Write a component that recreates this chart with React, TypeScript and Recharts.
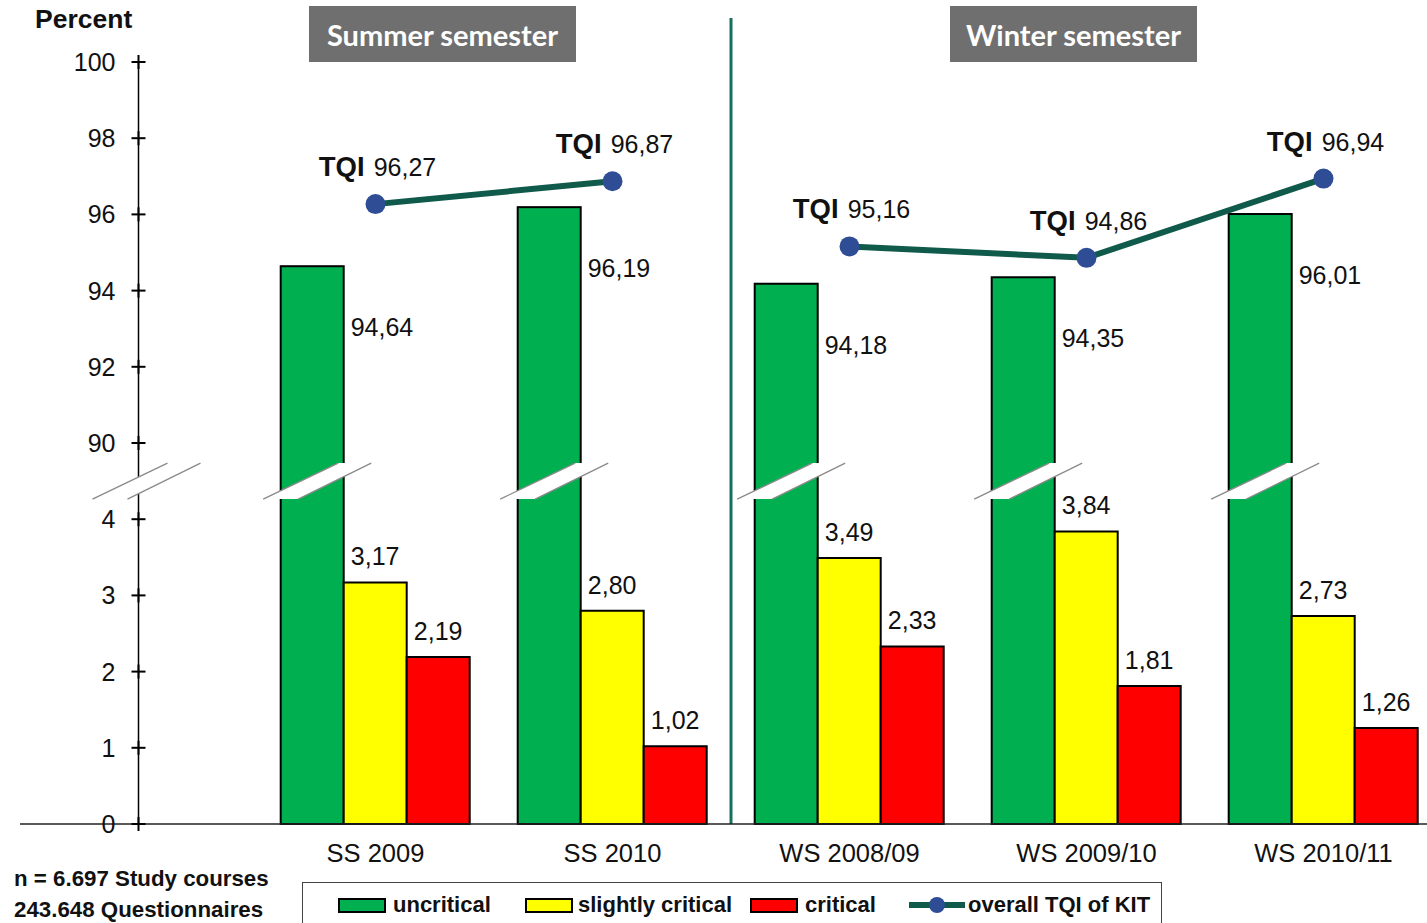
import { ComposedChart, Bar, Line, XAxis, YAxis, ReferenceLine, ReferenceDot, LabelList } from "recharts"

const categories = [" ", "SS 2009", "SS 2010", "WS 2008/09", "WS 2009/10", "WS 2010/11"]
const uncritical = [null, 94.64, 96.19, 94.18, 94.35, 96.01]
const slightlyCritical = [null, 3.17, 2.8, 3.49, 3.84, 2.73]
const critical = [null, 2.19, 1.02, 2.33, 1.81, 1.26]
const tqiSummer = [null, 96.27, 96.87, null, null, null]
const tqiWinter = [null, null, null, 95.16, 94.86, 96.94]
const lowerTicks = [0, 1, 2, 3, 4]
const upperTicks = [90, 92, 94, 96, 98, 100]

// broken axis: 0..4 drawn as is, 90..100 squeezed into 5..10
const BREAK = 4.5
const toAxis = (v: number | null) => (v == null ? null : v <= 4 ? v : 5 + (v - 90) / 2)
const fromAxis = (t: number) => (t <= 4 ? t : 90 + (t - 5) * 2)
const fmt = (v: number) => v.toFixed(2).replace(".", ",")

const data = categories.map((name, i) => ({
  name,
  uncritical: toAxis(uncritical[i]),
  uncriticalRaw: uncritical[i],
  slightly: slightlyCritical[i],
  critical: critical[i],
  tqiS: toAxis(tqiSummer[i]),
  tqiSRaw: tqiSummer[i],
  tqiW: toAxis(tqiWinter[i]),
  tqiWRaw: tqiWinter[i],
}))

const W = 1450
const H = 923
const X_AXIS_H = 30
const Y_AXIS_W = 1
const M = { top: 62, right: 8, bottom: 69, left: 19 }
const PLOT_LEFT = M.left + Y_AXIS_W
const PLOT_W = W - PLOT_LEFT - M.right
const PLOT_H = H - M.top - M.bottom - X_AXIS_H
const AXIS_Y = M.top + PLOT_H
const BAND = PLOT_W / categories.length
const AXIS_X = PLOT_LEFT + BAND / 2
const UNIT = PLOT_H / 10

const FONT = "'Liberation Sans', Arial, sans-serif"
const INK = "#111"

function BreakMark({ cx, cy }: { cx: number; cy: number }) {
  return (
    <g>
      <polygon
        points={`${cx - 54},${cy + 18} ${cx + 21},${cy - 18} ${cx + 54},${cy - 18} ${cx - 19},${cy + 18}`}
        fill="#fff"
      />
      <line x1={cx - 54} y1={cy + 18} x2={cx + 21} y2={cy - 18} stroke="#8a8a8a" strokeWidth={1.3} />
      <line x1={cx - 19} y1={cy + 18} x2={cx + 54} y2={cy - 18} stroke="#8a8a8a" strokeWidth={1.3} />
    </g>
  )
}

const GreenBar = (p: any) => {
  if (p.height == null || !p.width) return null
  const breakY = p.y + p.height - BREAK * UNIT
  return (
    <g>
      <rect x={p.x} y={p.y} width={p.width} height={p.height} fill={p.fill} stroke="#000" strokeWidth={2} />
      {p.y < breakY && <BreakMark cx={p.x + p.width / 2 + 5} cy={breakY} />}
    </g>
  )
}

const YTick = (p: any) => {
  const v = p.payload.value
  return (
    <g>
      <line x1={AXIS_X - 7} x2={AXIS_X + 7} y1={p.y} y2={p.y} stroke="#000" strokeWidth={2} />
      <line x1={AXIS_X} x2={AXIS_X} y1={p.y - 7} y2={p.y + 7} stroke="#000" strokeWidth={2} />
      <text x={AXIS_X - 23} y={p.y + 9} textAnchor="end" fontSize={25} fontFamily={FONT} fill={INK}>
        {fromAxis(v)}
      </text>
    </g>
  )
}

const XTick = (p: any) => (
  <text x={p.x} y={AXIS_Y + 38} textAnchor="middle" fontSize={25.5} fontFamily={FONT} fill={INK}>
    {p.payload.value}
  </text>
)

const SideLabel = (p: any) => {
  if (p.value == null) return null
  return (
    <text x={p.x + p.width + 7} y={p.y + 70} fontSize={25} fontFamily={FONT} fill={INK}>
      {fmt(p.value)}
    </text>
  )
}

const TopLabel = (p: any) => {
  if (p.value == null) return null
  return (
    <text x={p.x + p.width / 2} y={p.y - 17} textAnchor="middle" fontSize={25} fontFamily={FONT} fill={INK}>
      {fmt(p.value)}
    </text>
  )
}

const TqiLabel = (p: any) => {
  if (p.value == null) return null
  return (
    <text x={p.x + 2} y={p.y - 28} textAnchor="middle" fontSize={25} fontFamily={FONT} fill={INK}>
      <tspan fontWeight={700} fontSize={27.5}>TQI</tspan>
      <tspan dx={9}>{fmt(p.value)}</tspan>
    </text>
  )
}

const Divider = (p: any) => {
  const x = p.x1 - BAND / 2
  return (
    <line
      x1={x}
      x2={x}
      y1={Math.min(p.y1, p.y2) - 44}
      y2={Math.max(p.y1, p.y2)}
      stroke="#17705e"
      strokeWidth={3}
    />
  )
}

const headerStyle = {
  position: "absolute" as const,
  top: 6,
  height: 56,
  background: "#6f6f6f",
  color: "#fff",
  fontFamily: "Lato, 'Open Sans', sans-serif",
  fontWeight: 700,
  fontSize: 29,
  display: "flex",
  alignItems: "center",
  justifyContent: "center",
}

const noteStyle = {
  position: "absolute" as const,
  left: 14,
  fontFamily: FONT,
  fontWeight: 700,
  fontSize: 22.3,
  color: INK,
  whiteSpace: "nowrap" as const,
}

function Swatch({ color }: { color: string }) {
  return <div style={{ width: 44, height: 11, background: color, border: "2px solid #000" }} />
}

export default function App() {
  const legendText = { fontFamily: FONT, fontWeight: 700, fontSize: 22, color: INK, marginLeft: 7 }
  const item = { position: "absolute" as const, top: 9, display: "flex", alignItems: "center" }
  return (
    <div style={{ position: "absolute", left: 0, top: 0, width: 1427, height: 923, overflow: "hidden", background: "#fff" }}>
      <ComposedChart width={W} height={H} data={data} margin={M} barCategoryGap="10%" barGap={0}>
        <XAxis
          dataKey="name"
          height={X_AXIS_H}
          axisLine={{ stroke: "#222", strokeWidth: 1.5 }}
          tickLine={false}
          interval={0}
          tick={XTick}
        />
        <YAxis
          type="number"
          width={Y_AXIS_W}
          domain={[0, 10]}
          ticks={[...lowerTicks, ...upperTicks].map((t) => toAxis(t) as number)}
          interval={0}
          axisLine={false}
          tickLine={false}
          tick={YTick}
        />
        <ReferenceLine x=" " stroke="#000" strokeWidth={1.5} />
        <ReferenceLine x="WS 2008/09" shape={Divider} />
        <Bar dataKey="uncritical" fill="#00b050" shape={GreenBar} isAnimationActive={false}>
          <LabelList dataKey="uncriticalRaw" content={SideLabel} />
        </Bar>
        <Bar dataKey="slightly" fill="#ffff00" stroke="#000" strokeWidth={2} isAnimationActive={false}>
          <LabelList dataKey="slightly" content={TopLabel} />
        </Bar>
        <Bar dataKey="critical" fill="#ff0000" stroke="#000" strokeWidth={2} isAnimationActive={false}>
          <LabelList dataKey="critical" content={TopLabel} />
        </Bar>
        <Line
          dataKey="tqiS"
          stroke="#0f5a4a"
          strokeWidth={6}
          dot={{ r: 10, fill: "#2f4d95", stroke: "#2f4d95", strokeWidth: 0 }}
          activeDot={false}
          isAnimationActive={false}
        >
          <LabelList dataKey="tqiSRaw" content={TqiLabel} />
        </Line>
        <Line
          dataKey="tqiW"
          stroke="#0f5a4a"
          strokeWidth={6}
          dot={{ r: 10, fill: "#2f4d95", stroke: "#2f4d95", strokeWidth: 0 }}
          activeDot={false}
          isAnimationActive={false}
        >
          <LabelList dataKey="tqiWRaw" content={TqiLabel} />
        </Line>
        <ReferenceDot x=" " y={BREAK} shape={(p: any) => <BreakMark cx={p.cx + 8} cy={p.cy} />} />
      </ComposedChart>

      <div style={{ position: "absolute", left: 35, top: 4, fontFamily: FONT, fontWeight: 700, fontSize: 26.5, color: INK }}>
        Percent
      </div>
      <div style={{ ...headerStyle, left: 309, width: 267 }}>Summer semester</div>
      <div style={{ ...headerStyle, left: 950, width: 247 }}>Winter semester</div>

      <div style={{ ...noteStyle, top: 866 }}>n = 6.697 Study courses</div>
      <div style={{ ...noteStyle, top: 897 }}>243.648 Questionnaires</div>

      <div style={{ position: "absolute", left: 302, top: 882, width: 858, height: 60, border: "1px solid #444" }}>
        <div style={{ ...item, left: 35 }}>
          <Swatch color="#00b050" />
          <span style={legendText}>uncritical</span>
        </div>
        <div style={{ ...item, left: 222 }}>
          <Swatch color="#ffff00" />
          <span style={{ ...legendText, marginLeft: 5 }}>slightly critical</span>
        </div>
        <div style={{ ...item, left: 447 }}>
          <Swatch color="#ff0000" />
          <span style={legendText}>critical</span>
        </div>
        <div style={{ ...item, left: 606 }}>
          <svg width={56} height={20}>
            <line x1={0} x2={56} y1={10} y2={10} stroke="#0f5a4a" strokeWidth={6} />
            <circle cx={28} cy={10} r={8} fill="#2f4d95" />
          </svg>
          <span style={{ ...legendText, marginLeft: 3 }}>overall TQI of KIT</span>
        </div>
      </div>
    </div>
  )
}
